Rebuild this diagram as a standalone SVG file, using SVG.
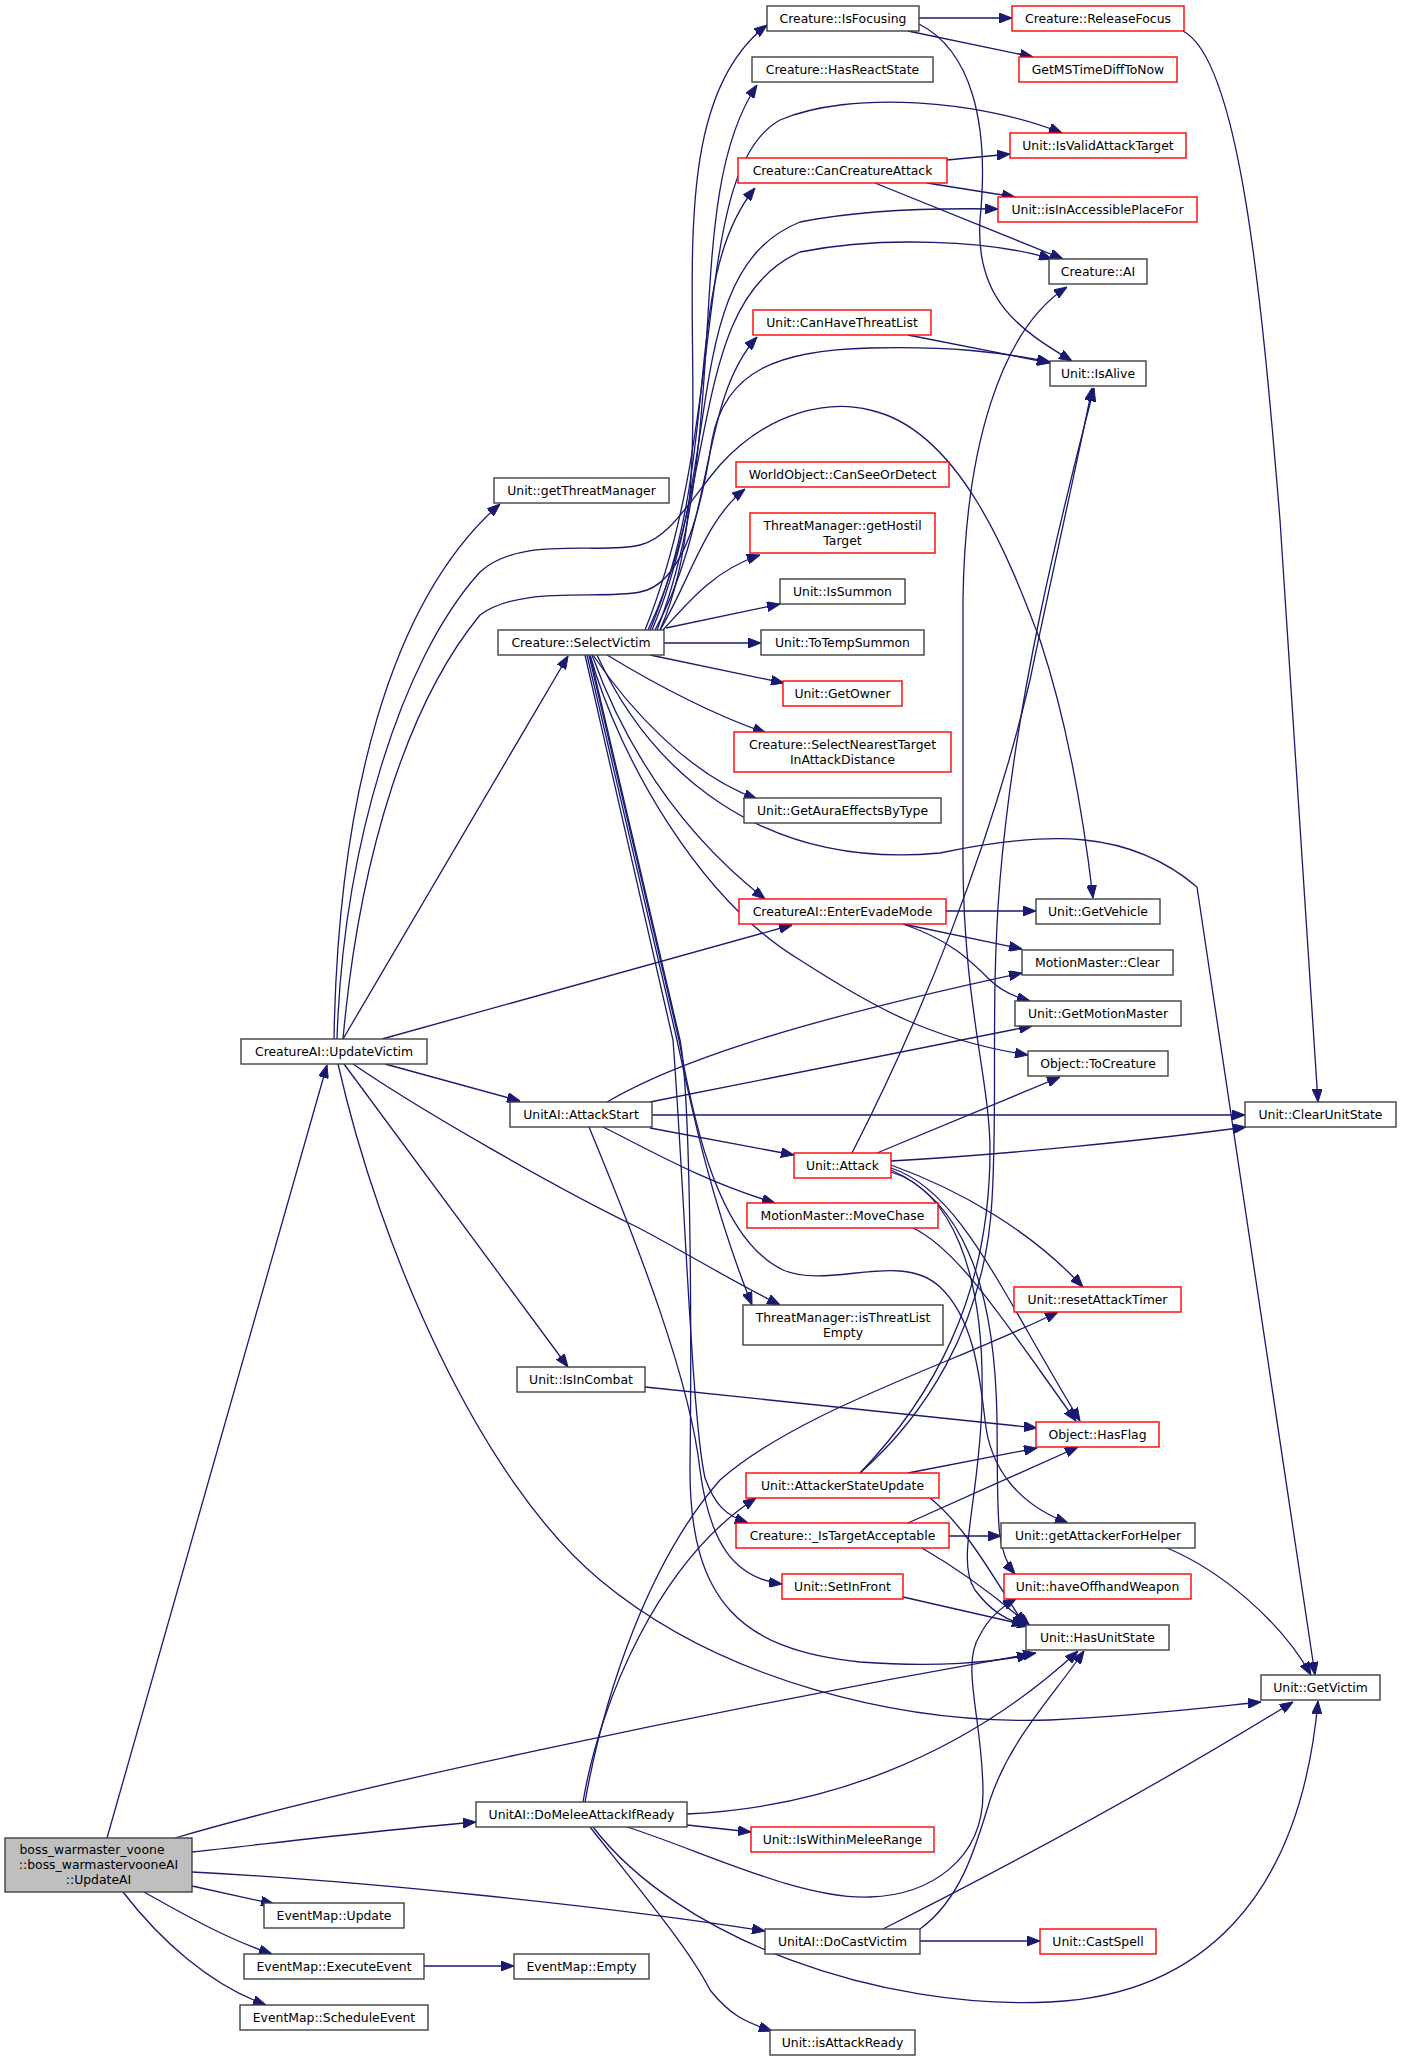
<svg xmlns="http://www.w3.org/2000/svg" width="1401" height="2061" viewBox="0 0 1401 2061">
<defs>
<marker id="a" markerWidth="13" markerHeight="10" refX="13" refY="5" orient="auto" markerUnits="userSpaceOnUse"><path d="M0,0 L13,5 L0,10 z" fill="#191970" stroke="#191970" stroke-width="1"/></marker>
<style>
.n rect{fill:#fff;stroke:#404040;stroke-width:1.4}
.n.r rect{stroke:#ff0000}
.n.g rect{fill:#bfbfbf}
text{font-family:"DejaVu Sans","Liberation Sans",sans-serif;font-size:12.4px;text-anchor:middle;fill:#000}
#edges path{fill:none;stroke:#191970;stroke-width:1.3;marker-end:url(#a)}
</style>
</defs>
<rect width="1401" height="2061" fill="#fff"/>
<g id="edges">
<path d="M107,1838 L327,1065"/>
<path d="M175,1838 C330,1792 700,1712 1036,1653"/>
<path d="M192,1852 C300,1840 380,1830 476,1822"/>
<path d="M192,1872 C350,1880 600,1905 765,1931"/>
<path d="M192,1886 L274,1904"/>
<path d="M144,1892 C190,1918 230,1940 272,1954"/>
<path d="M123,1892 C160,1940 210,1985 266,2005"/>
<path d="M424,1966 L514,1966"/>
<path d="M334,1039 C338,800 390,600 500,504"/>
<path d="M343,1039 L568,656"/>
<path d="M382,1039 L792,925"/>
<path d="M385,1064 L520,1101"/>
<path d="M353,1064 C420,1110 560,1190 637,1227 C690,1255 730,1280 780,1305"/>
<path d="M344,1064 L568,1367"/>
<path d="M338,1064 C380,1250 480,1480 600,1580 C720,1680 900,1725 1050,1720 C1150,1715 1220,1706 1261,1702"/>
<path d="M337,1039 C343,850 400,660 480,572 C520,535 600,555 640,545 C670,538 690,500 720,465 C770,410 830,400 870,410 C960,430 1010,560 1040,640 C1070,730 1085,830 1093,898"/>
<path d="M343,1039 C360,850 410,700 480,615 C520,585 600,600 640,592 C680,585 700,520 712,440 C725,370 780,350 870,348 C950,346 1000,352 1050,362"/>
<path d="M666,628 L780,604"/>
<path d="M664,643 L761,643"/>
<path d="M650,655 L784,683"/>
<path d="M607,655 C640,675 700,710 766,733"/>
<path d="M593,655 C630,710 690,775 757,799"/>
<path d="M592,655 C630,760 690,840 765,899"/>
<path d="M590,655 C620,760 700,900 800,960 C870,1005 930,1040 1028,1055"/>
<path d="M597,655 C650,770 760,870 940,853 C1050,830 1130,830 1197,887 L1315,1675"/>
<path d="M587,655 L677,1040 C690,1100 710,1200 752,1305"/>
<path d="M585,655 L673,1040 C685,1200 692,1420 705,1478 C715,1505 725,1515 748,1523"/>
<path d="M590,655 L680,1040 C690,1090 692,1300 690,1470 C690,1600 740,1650 860,1662 C940,1668 990,1662 1030,1655"/>
<path d="M589,655 L679,1040 C695,1130 720,1240 783,1270 C830,1290 900,1250 940,1287 C975,1320 980,1380 985,1420 C990,1470 1020,1505 1068,1523"/>
<path d="M660,630 C740,450 630,130 767,25"/>
<path d="M657,630 C735,430 680,200 757,85"/>
<path d="M650,630 C725,450 680,280 755,188"/>
<path d="M645,630 C730,420 690,170 780,120 C850,90 980,100 1062,133"/>
<path d="M652,630 C725,460 680,270 800,222 C860,210 940,208 998,209"/>
<path d="M648,630 C720,480 690,300 800,252 C880,236 990,240 1052,259"/>
<path d="M655,630 C715,520 700,400 757,337"/>
<path d="M660,630 C690,580 705,520 745,489"/>
<path d="M663,630 C690,600 715,570 760,555"/>
<path d="M946,911 L1036,911"/>
<path d="M903,924 L1022,949"/>
<path d="M903,924 C950,940 970,960 990,980 C1000,990 1015,997 1030,1001"/>
<path d="M607,1102 C670,1065 780,1025 1022,973"/>
<path d="M650,1102 L1032,1026"/>
<path d="M652,1115 L1245,1115"/>
<path d="M650,1128 L794,1155"/>
<path d="M603,1127 C650,1150 700,1180 775,1203"/>
<path d="M589,1127 C640,1250 690,1380 700,1470 C710,1545 735,1578 782,1584"/>
<path d="M852,1153 C920,1020 990,850 1030,680 C1055,560 1080,450 1092,388"/>
<path d="M860,1473 C920,1420 985,1330 992,1200 C998,1100 990,1000 1000,880 C1015,700 1060,520 1094,388"/>
<path d="M860,1473 C930,1400 990,1300 990,1150 C990,1080 962,1000 963,850 L963,600 C965,450 1000,330 1067,287"/>
<path d="M877,1153 L1060,1077"/>
<path d="M891,1161 C1000,1155 1150,1140 1246,1127"/>
<path d="M891,1165 C960,1190 1030,1230 1083,1287"/>
<path d="M891,1168 C960,1190 1000,1290 1080,1421"/>
<path d="M891,1172 C950,1190 985,1270 982,1400 C980,1500 955,1560 975,1590 C990,1610 1005,1620 1025,1625"/>
<path d="M891,1170 C960,1200 995,1280 997,1420 C998,1520 995,1550 1015,1574"/>
<path d="M913,1228 C960,1250 1010,1330 1076,1421"/>
<path d="M908,1473 L1037,1448"/>
<path d="M930,1498 C970,1530 1000,1590 1025,1625"/>
<path d="M908,1523 L1078,1447"/>
<path d="M949,1536 L1001,1536"/>
<path d="M922,1548 C960,1570 1000,1600 1030,1626"/>
<path d="M645,1387 L1037,1428"/>
<path d="M1167,1548 C1220,1570 1280,1620 1311,1675"/>
<path d="M903,1597 L1030,1626"/>
<path d="M583,1802 C600,1700 660,1560 756,1498"/>
<path d="M585,1802 C605,1690 650,1560 720,1480 C800,1410 950,1365 1058,1312"/>
<path d="M687,1825 L751,1832"/>
<path d="M590,1827 C640,1890 690,1950 710,1990 C730,2015 745,2022 772,2031"/>
<path d="M593,1827 C680,1940 880,2010 1050,2002 C1200,1995 1300,1900 1318,1701"/>
<path d="M627,1827 C700,1850 800,1900 870,1897 C930,1895 983,1860 983,1793 C983,1720 960,1665 980,1635 C990,1615 1005,1605 1016,1599"/>
<path d="M687,1814 C820,1808 960,1760 1078,1651"/>
<path d="M920,1929 C960,1900 975,1850 990,1800 C1010,1740 1050,1700 1084,1651"/>
<path d="M883,1929 C1000,1870 1150,1790 1293,1702"/>
<path d="M920,1941 L1040,1941"/>
<path d="M919,18 L1012,18"/>
<path d="M908,31 L1033,57"/>
<path d="M919,24 C970,50 990,120 980,220 C975,300 1020,330 1072,361"/>
<path d="M1183,31 C1240,60 1262,300 1280,520 L1318,1102"/>
<path d="M947,160 L1010,154"/>
<path d="M927,183 L1015,197"/>
<path d="M875,183 L1063,259"/>
<path d="M908,335 L1050,363"/>
</g>
<g id="n1" class="n"><rect x="767" y="6" width="152" height="25"/><text x="843" y="22.7">Creature::IsFocusing</text></g>
<g id="n2" class="n r"><rect x="1012" y="6" width="172" height="25"/><text x="1098" y="22.7">Creature::ReleaseFocus</text></g>
<g id="n3" class="n"><rect x="752" y="57" width="181" height="25"/><text x="842.5" y="73.7">Creature::HasReactState</text></g>
<g id="n4" class="n r"><rect x="1019" y="57" width="158" height="25"/><text x="1098" y="73.7">GetMSTimeDiffToNow</text></g>
<g id="n5" class="n r"><rect x="1010" y="133" width="176" height="25"/><text x="1098" y="149.7">Unit::IsValidAttackTarget</text></g>
<g id="n6" class="n r"><rect x="738" y="158" width="209" height="25"/><text x="842.5" y="174.7">Creature::CanCreatureAttack</text></g>
<g id="n7" class="n r"><rect x="998" y="197" width="199" height="25"/><text x="1097.5" y="213.7">Unit::isInAccessiblePlaceFor</text></g>
<g id="n8" class="n"><rect x="1049" y="259" width="98" height="25"/><text x="1098" y="275.7">Creature::AI</text></g>
<g id="n9" class="n r"><rect x="753" y="310" width="178" height="25"/><text x="842" y="326.7">Unit::CanHaveThreatList</text></g>
<g id="n10" class="n"><rect x="1050" y="361" width="96" height="25"/><text x="1098" y="377.7">Unit::IsAlive</text></g>
<g id="n11" class="n"><rect x="494" y="478" width="175" height="25"/><text x="581.5" y="494.7">Unit::getThreatManager</text></g>
<g id="n12" class="n r"><rect x="736" y="462" width="213" height="25"/><text x="842.5" y="478.7">WorldObject::CanSeeOrDetect</text></g>
<g id="n13" class="n r"><rect x="750" y="513" width="185" height="40"/><text x="842.5" y="529.5">ThreatManager::getHostil</text><text x="842.5" y="544.5">Target</text></g>
<g id="n14" class="n"><rect x="780" y="579" width="125" height="25"/><text x="842.5" y="595.7">Unit::IsSummon</text></g>
<g id="n15" class="n"><rect x="498" y="630" width="166" height="25"/><text x="581" y="646.7">Creature::SelectVictim</text></g>
<g id="n16" class="n"><rect x="761" y="630" width="163" height="25"/><text x="842.5" y="646.7">Unit::ToTempSummon</text></g>
<g id="n17" class="n r"><rect x="783" y="681" width="119" height="25"/><text x="842.5" y="697.7">Unit::GetOwner</text></g>
<g id="n18" class="n r"><rect x="734" y="732" width="217" height="40"/><text x="842.5" y="748.5">Creature::SelectNearestTarget</text><text x="842.5" y="763.5">InAttackDistance</text></g>
<g id="n19" class="n"><rect x="744" y="798" width="197" height="25"/><text x="842.5" y="814.7">Unit::GetAuraEffectsByType</text></g>
<g id="n20" class="n r"><rect x="739" y="899" width="207" height="25"/><text x="842.5" y="915.7">CreatureAI::EnterEvadeMode</text></g>
<g id="n21" class="n"><rect x="1036" y="899" width="124" height="25"/><text x="1098" y="915.7">Unit::GetVehicle</text></g>
<g id="n22" class="n"><rect x="1022" y="950" width="151" height="25"/><text x="1097.5" y="966.7">MotionMaster::Clear</text></g>
<g id="n23" class="n"><rect x="1015" y="1001" width="166" height="25"/><text x="1098" y="1017.7">Unit::GetMotionMaster</text></g>
<g id="n24" class="n"><rect x="241" y="1039" width="186" height="25"/><text x="334" y="1055.7">CreatureAI::UpdateVictim</text></g>
<g id="n25" class="n"><rect x="1028" y="1051" width="140" height="25"/><text x="1098" y="1067.7">Object::ToCreature</text></g>
<g id="n26" class="n"><rect x="510" y="1102" width="142" height="25"/><text x="581" y="1118.7">UnitAI::AttackStart</text></g>
<g id="n27" class="n"><rect x="1245" y="1102" width="151" height="25"/><text x="1320.5" y="1118.7">Unit::ClearUnitState</text></g>
<g id="n28" class="n r"><rect x="794" y="1153" width="97" height="25"/><text x="842.5" y="1169.7">Unit::Attack</text></g>
<g id="n29" class="n r"><rect x="747" y="1203" width="191" height="25"/><text x="842.5" y="1219.7">MotionMaster::MoveChase</text></g>
<g id="n30" class="n r"><rect x="1014" y="1287" width="167" height="25"/><text x="1097.5" y="1303.7">Unit::resetAttackTimer</text></g>
<g id="n31" class="n"><rect x="743" y="1305" width="200" height="40"/><text x="843" y="1321.5">ThreatManager::isThreatList</text><text x="843" y="1336.5">Empty</text></g>
<g id="n32" class="n"><rect x="517" y="1367" width="128" height="25"/><text x="581" y="1383.7">Unit::IsInCombat</text></g>
<g id="n33" class="n r"><rect x="1036" y="1422" width="123" height="25"/><text x="1097.5" y="1438.7">Object::HasFlag</text></g>
<g id="n34" class="n r"><rect x="746" y="1473" width="193" height="25"/><text x="842.5" y="1489.7">Unit::AttackerStateUpdate</text></g>
<g id="n35" class="n r"><rect x="736" y="1523" width="213" height="25"/><text x="842.5" y="1539.7">Creature::_IsTargetAcceptable</text></g>
<g id="n36" class="n"><rect x="1001" y="1523" width="194" height="25"/><text x="1098" y="1539.7">Unit::getAttackerForHelper</text></g>
<g id="n37" class="n r"><rect x="782" y="1574" width="121" height="25"/><text x="842.5" y="1590.7">Unit::SetInFront</text></g>
<g id="n38" class="n r"><rect x="1004" y="1574" width="187" height="25"/><text x="1097.5" y="1590.7">Unit::haveOffhandWeapon</text></g>
<g id="n39" class="n"><rect x="1026" y="1625" width="143" height="25"/><text x="1097.5" y="1641.7">Unit::HasUnitState</text></g>
<g id="n40" class="n"><rect x="1261" y="1675" width="119" height="25"/><text x="1320.5" y="1691.7">Unit::GetVictim</text></g>
<g id="n41" class="n g"><rect x="5" y="1838" width="187" height="54"/><text x="92" y="1854">boss_warmaster_voone</text><text x="98.5" y="1869">::boss_warmastervooneAI</text><text x="98.5" y="1883.5">::UpdateAI</text></g>
<g id="n42" class="n"><rect x="476" y="1802" width="211" height="25"/><text x="581.5" y="1818.7">UnitAI::DoMeleeAttackIfReady</text></g>
<g id="n43" class="n r"><rect x="751" y="1827" width="183" height="25"/><text x="842.5" y="1843.7">Unit::IsWithinMeleeRange</text></g>
<g id="n44" class="n"><rect x="264" y="1903" width="140" height="25"/><text x="334" y="1919.7">EventMap::Update</text></g>
<g id="n45" class="n"><rect x="765" y="1929" width="155" height="25"/><text x="842.5" y="1945.7">UnitAI::DoCastVictim</text></g>
<g id="n46" class="n r"><rect x="1040" y="1929" width="116" height="25"/><text x="1098" y="1945.7">Unit::CastSpell</text></g>
<g id="n47" class="n"><rect x="244" y="1954" width="180" height="25"/><text x="334" y="1970.7">EventMap::ExecuteEvent</text></g>
<g id="n48" class="n"><rect x="514" y="1954" width="135" height="25"/><text x="581.5" y="1970.7">EventMap::Empty</text></g>
<g id="n49" class="n"><rect x="240" y="2005" width="188" height="25"/><text x="334" y="2021.7">EventMap::ScheduleEvent</text></g>
<g id="n50" class="n"><rect x="770" y="2030" width="145" height="25"/><text x="842.5" y="2046.7">Unit::isAttackReady</text></g>
</svg>
